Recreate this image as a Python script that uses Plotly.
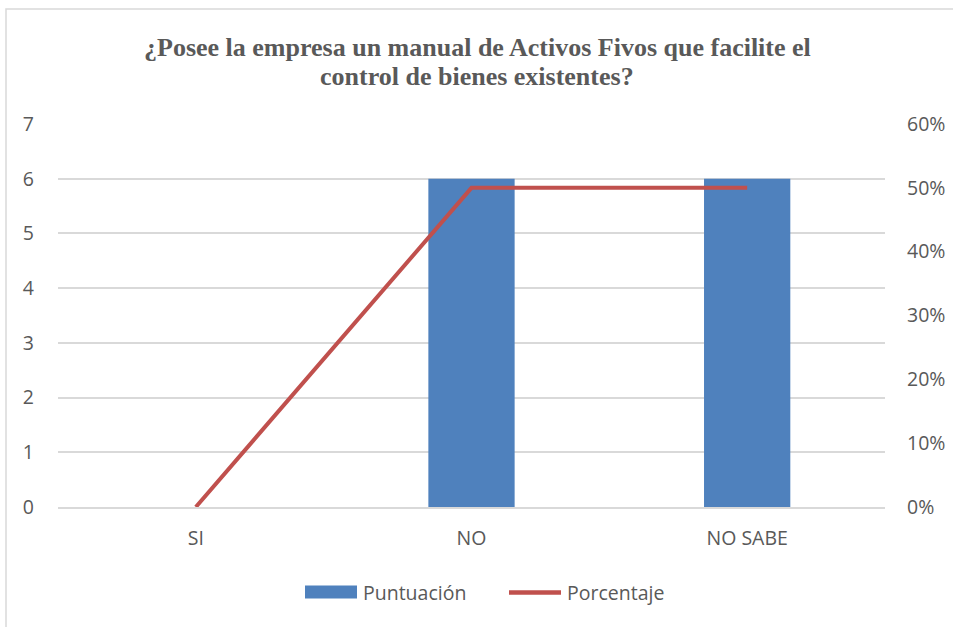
import plotly.graph_objects as go

categories = ["SI", "NO", "NO SABE"]
puntuacion = [0, 6, 6]
porcentaje = [0.0, 0.5, 0.5]
left_ticks = [0, 1, 2, 3, 4, 5, 6, 7]
right_ticks = [0, 0.1, 0.2, 0.3, 0.4, 0.5, 0.6]
right_tick_labels = ["0%", "10%", "20%", "30%", "40%", "50%", "60%"]
series_names = ["Puntuación", "Porcentaje"]
title_lines = ["¿Posee la empresa un manual de Activos Fivos que facilite el",
               "control de bienes existentes?"]

W, H = 953, 627
L, R, T, B = 58, 68, 124, 120
pw, ph = W - L - R, H - T - B

BAR_COLOR = "#4F81BD"
LINE_COLOR = "#C0504D"
TEXT_COLOR = "#595959"
GRID_COLOR = "#d9d9d9"


def px_x(x):
    return (x - L) / pw


def px_y(y):
    return (H - B - y) / ph


fig = go.Figure()
fig.add_trace(go.Bar(
    x=categories, y=puntuacion, name=series_names[0],
    marker=dict(color=BAR_COLOR, line=dict(width=0)),
    width=0.313, yaxis="y", showlegend=False,
))
fig.add_trace(go.Scatter(
    x=categories, y=porcentaje, name=series_names[1], mode="lines",
    line=dict(color=LINE_COLOR, width=4), yaxis="y2", showlegend=False,
))

tick_font = dict(family="Open Sans, Liberation Sans, sans-serif", size=19.5, color=TEXT_COLOR)

shapes = [
    # chart border
    dict(type="rect", xref="paper", yref="paper",
         x0=px_x(6), x1=px_x(975), y0=px_y(660), y1=px_y(9),
         line=dict(color=GRID_COLOR, width=1.5), fillcolor="rgba(0,0,0,0)", layer="below"),
    # legend swatches
    dict(type="rect", xref="paper", yref="paper",
         x0=px_x(305), x1=px_x(357), y0=px_y(598.5), y1=px_y(585.5),
         line=dict(width=0), fillcolor=BAR_COLOR),
    dict(type="line", xref="paper", yref="paper",
         x0=px_x(509), x1=px_x(561), y0=px_y(592.5), y1=px_y(592.5),
         line=dict(color=LINE_COLOR, width=4.5)),
]

legend_font = dict(family="Open Sans, Liberation Sans, sans-serif", size=19.5, color=TEXT_COLOR)
title_font = dict(family="Liberation Serif, Times New Roman, serif", size=26,
                  color=TEXT_COLOR, weight="bold")
annotations = [
    dict(text=series_names[0], xref="paper", yref="paper", x=px_x(361), y=px_y(592),
         xanchor="left", yanchor="middle", showarrow=False, font=legend_font),
    dict(text=series_names[1], xref="paper", yref="paper", x=px_x(565), y=px_y(592),
         xanchor="left", yanchor="middle", showarrow=False, font=legend_font),
    dict(text="<b>" + title_lines[0] + "</b>", xref="paper", yref="paper",
         x=px_x(477), y=px_y(48), xanchor="center", yanchor="middle",
         showarrow=False, font=title_font),
    dict(text="<b>" + title_lines[1] + "</b>", xref="paper", yref="paper",
         x=px_x(477), y=px_y(76), xanchor="center", yanchor="middle",
         showarrow=False, font=title_font),
]

fig.update_layout(
    width=W, height=H,
    margin=dict(l=L, r=R, t=T, b=B, autoexpand=False),
    paper_bgcolor="white", plot_bgcolor="white",
    xaxis=dict(
        type="category", range=[-0.5, 2.5], showgrid=False, zeroline=False,
        showline=True, linecolor=GRID_COLOR, linewidth=1.5, automargin=False,
        ticks="", tickfont=tick_font, ticklabelstandoff=13,
    ),
    yaxis=dict(
        range=[0, 7], tickvals=left_ticks, showgrid=True, gridcolor=GRID_COLOR,
        gridwidth=1.5, zeroline=False, showline=False, ticks="", automargin=False,
        tickfont=tick_font, ticklabelstandoff=23,
    ),
    yaxis2=dict(
        range=[0, 0.6], tickvals=right_ticks, ticktext=right_tick_labels,
        overlaying="y", side="right", showgrid=False, zeroline=False, automargin=False,
        showline=False, ticks="", tickfont=tick_font, ticklabelstandoff=21,
    ),
    showlegend=False,
    shapes=shapes,
    annotations=annotations,
)

fig.write_html("out.html", config={"displayModeBar": False},
               post_script="document.body.style.margin='0';document.body.style.padding='0';")
